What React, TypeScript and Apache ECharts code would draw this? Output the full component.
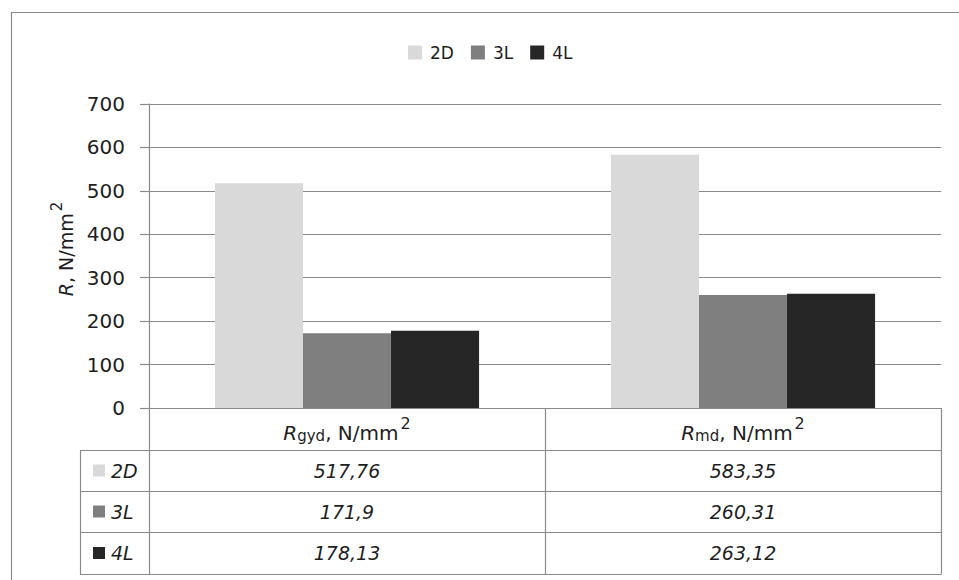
import React, { useEffect, useRef } from "react";
import * as echarts from "echarts";

// ---- data ----
const categories = ["Rgyd, N/mm²", "Rmd, N/mm²"];
const seriesNames = ["2D", "3L", "4L"];
const values2D = [517.76, 583.35];
const values3L = [171.9, 260.31];
const values4L = [178.13, 263.12];
const seriesColors = ["#d9d9d9", "#7f7f7f", "#262626"];
const yMin = 0;
const yMax = 700;
const yInterval = 100;

const allValues = [values2D, values3L, values4L];

// ---- layout ----
const W = 959;
const H = 580;
const GRID_LEFT = 149;
const GRID_RIGHT = 941;
const GRID_TOP = 104;
const GRID_BOTTOM = 408;
const TABLE_LEFT = 80;
const ROW_LINES = [408, 450, 491, 532, 574];
const LINE_COLOR = "#8a8a8a";
const FONT = "DejaVu Sans";
const TEXT_COLOR = "#1e1e1e";

const fmtComma = (v: number) => String(v).replace(".", ",");

function catFormatter(name: string) {
  const m = name.match(/^(R)([a-z]+)(, N\/mm)(²)$/);
  if (!m) return name;
  return `{i|${m[1]}}{s|${m[2]}}{n|${m[3]}}{sup|2}`;
}

export default function App() {
  const ref = useRef<HTMLDivElement>(null);

  useEffect(() => {
    if (!ref.current) return;
    const chart = echarts.init(ref.current, null, { renderer: "svg" });

    const catW = (GRID_RIGHT - GRID_LEFT) / categories.length;
    const colCenters = categories.map((_, i) => GRID_LEFT + catW * (i + 0.5));
    const colBounds = categories.map((_, i) => GRID_LEFT + catW * (i + 1));

    const graphics: any[] = [];
    // outer chart border
    graphics.push({
      type: "rect",
      shape: { x: 11.5, y: 12.5, width: 1200, height: 1200 },
      style: { fill: "none", stroke: LINE_COLOR, lineWidth: 1.2 },
      silent: true,
    });
    // table horizontal lines (rows below header)
    ROW_LINES.slice(1).forEach((y) => {
      graphics.push({
        type: "line",
        shape: { x1: TABLE_LEFT, y1: y + 0.5, x2: GRID_RIGHT, y2: y + 0.5 },
        style: { stroke: LINE_COLOR, lineWidth: 1.2 },
        silent: true,
      });
    });
    // table vertical lines
    graphics.push({
      type: "line",
      shape: { x1: TABLE_LEFT + 0.5, y1: ROW_LINES[1], x2: TABLE_LEFT + 0.5, y2: ROW_LINES[4] + 0.5 },
      style: { stroke: LINE_COLOR, lineWidth: 1.2 },
      silent: true,
    });
    [GRID_LEFT, ...colBounds].forEach((x) => {
      graphics.push({
        type: "line",
        shape: { x1: x + 0.5, y1: ROW_LINES[0], x2: x + 0.5, y2: ROW_LINES[4] + 0.5 },
        style: { stroke: LINE_COLOR, lineWidth: 1.2 },
        silent: true,
      });
    });
    // table rows: legend keys + values
    seriesNames.forEach((name, r) => {
      const cy = (ROW_LINES[r + 1] + ROW_LINES[r + 2]) / 2;
      graphics.push({
        type: "rect",
        shape: { x: 93, y: cy - 6, width: 12, height: 12 },
        style: { fill: seriesColors[r] },
        silent: true,
      });
      graphics.push({
        type: "text",
        x: 111,
        y: cy,
        style: {
          text: name,
          fontFamily: FONT,
          fontStyle: "italic",
          fontSize: 19,
          fill: TEXT_COLOR,
          align: "left",
          verticalAlign: "middle",
        },
        silent: true,
      });
      allValues[r].forEach((v, c) => {
        graphics.push({
          type: "text",
          x: colCenters[c],
          y: cy,
          style: {
            text: fmtComma(v),
            fontFamily: FONT,
            fontStyle: "italic",
            fontSize: 19,
            fill: TEXT_COLOR,
            align: "center",
            verticalAlign: "middle",
          },
          silent: true,
        });
      });
    });

    const option: any = {
      animation: false,
      backgroundColor: "#ffffff",
      legend: {
        data: seriesNames,
        left: 408,
        top: 44,
        padding: 0,
        itemWidth: 14,
        itemHeight: 14,
        itemGap: 17,
        icon: "rect",
        textStyle: { fontFamily: FONT, fontSize: 17, color: TEXT_COLOR, padding: [0, 0, 0, 3] },
        selectedMode: false,
      },
      grid: {
        left: GRID_LEFT,
        right: W - GRID_RIGHT,
        top: GRID_TOP,
        bottom: H - GRID_BOTTOM,
        containLabel: false,
        outerBoundsMode: "none",
      },
      xAxis: {
        type: "category",
        data: categories,
        axisLine: { show: true, lineStyle: { color: LINE_COLOR, width: 1.2 } },
        axisTick: { show: false },
        axisLabel: {
          margin: 7,
          formatter: catFormatter,
          color: TEXT_COLOR,
          rich: {
            i: { fontFamily: FONT, fontStyle: "italic", fontSize: 20, lineHeight: 28, verticalAlign: "bottom", color: TEXT_COLOR },
            s: { fontFamily: FONT, fontSize: 15, lineHeight: 24, verticalAlign: "bottom", color: TEXT_COLOR },
            n: { fontFamily: FONT, fontSize: 20, lineHeight: 28, verticalAlign: "bottom", color: TEXT_COLOR },
            sup: { fontFamily: FONT, fontSize: 16, lineHeight: 28, verticalAlign: "top", color: TEXT_COLOR, padding: [0, 0, 0, 2] },
          },
        },
      },
      yAxis: {
        type: "value",
        min: yMin,
        max: yMax,
        interval: yInterval,
        name: "{i|R}{n|, N/mm}{sup|2}",
        nameLocation: "middle",
        nameRotate: 90,
        nameGap: 72,
        nameTextStyle: {
          padding: [0, 0, 0, 14],
          rich: {
            i: { fontFamily: FONT, fontStyle: "italic", fontSize: 19, lineHeight: 26, verticalAlign: "bottom", color: TEXT_COLOR },
            n: { fontFamily: FONT, fontSize: 19, lineHeight: 26, verticalAlign: "bottom", color: TEXT_COLOR },
            sup: { fontFamily: FONT, fontSize: 15, lineHeight: 26, verticalAlign: "top", color: TEXT_COLOR, padding: [0, 0, 0, 2] },
          },
        },
        axisLine: { show: true, lineStyle: { color: LINE_COLOR, width: 1.2 } },
        axisTick: { show: true, inside: false, length: 9, lineStyle: { color: LINE_COLOR, width: 1.2 } },
        axisLabel: { margin: 24, fontFamily: FONT, fontSize: 20, color: TEXT_COLOR },
        splitLine: { show: true, lineStyle: { color: LINE_COLOR, width: 1.2 } },
      },
      series: seriesNames.map((name, i) => ({
        name,
        type: "bar",
        data: allValues[i],
        barGap: "0%",
        barCategoryGap: "33.3%",
        itemStyle: { color: seriesColors[i] },
      })),
      graphic: graphics,
    };

    chart.setOption(option);
    return () => chart.dispose();
  }, []);

  return (
    <div
      ref={ref}
      style={{ position: "absolute", left: 0, top: 0, width: W, height: H }}
    />
  );
}
